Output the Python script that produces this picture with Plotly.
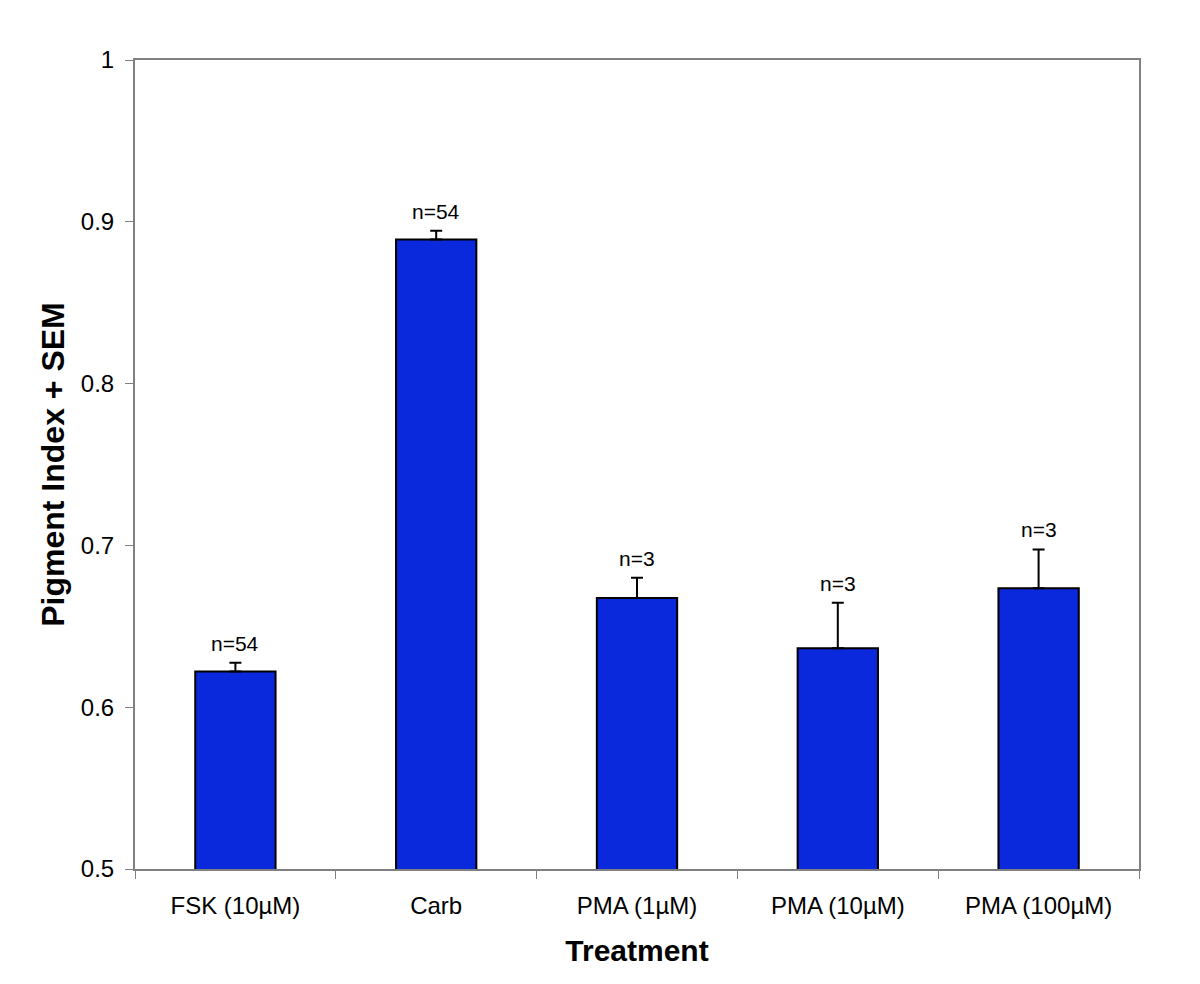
import plotly.graph_objects as go

categories = ["FSK (10µM)", "Carb", "PMA (1µM)", "PMA (10µM)", "PMA (100µM)"]
means = [0.622, 0.889, 0.6675, 0.6365, 0.6735]
sem = [0.0055, 0.0055, 0.0125, 0.028, 0.024]
n_labels = ["n=54", "n=54", "n=3", "n=3", "n=3"]
y_ticks = [0.5, 0.6, 0.7, 0.8, 0.9, 1.0]
y_tick_text = ["0.5", "0.6", "0.7", "0.8", "0.9", "1"]

FONT = "Liberation Sans, Arial, sans-serif"

fig = go.Figure()
fig.add_trace(go.Bar(
    x=categories, y=means, width=0.4,
    marker=dict(color="#0a28dc", line=dict(color="black", width=2)),
    error_y=dict(type="data", array=sem, arrayminus=[0]*len(sem), symmetric=False,
                 color="black", thickness=2, width=6),
))

for c, m, s, t in zip(categories, means, sem, n_labels):
    fig.add_annotation(x=c, y=m + s, text=t, showarrow=False, xref="x", yref="y",
                       yanchor="bottom", yshift=6, font=dict(size=21, color="black", family=FONT))

fig.update_layout(
    width=1200, height=984,
    margin=dict(l=127, r=69, t=52, b=123),
    paper_bgcolor="white", plot_bgcolor="white",
    showlegend=False,
    font=dict(family=FONT, color="black"),
)
fig.update_xaxes(
    type="category", tickson="boundaries", ticks="outside", ticklen=8, tickcolor="#808080",
    showline=True, linecolor="#808080", linewidth=2, mirror=True,
    tickfont=dict(size=24, family=FONT), ticklabelstandoff=14,
    title=dict(text="<b>Treatment</b>", font=dict(size=30, family=FONT), standoff=22),
    showgrid=False,
)
fig.update_yaxes(
    range=[0.5, 1.0], tickvals=y_ticks, ticktext=y_tick_text,
    ticks="outside", ticklen=8, tickcolor="#808080",
    showline=True, linecolor="#808080", linewidth=2, mirror=True,
    tickfont=dict(size=24, family=FONT), ticklabelstandoff=6,
    title=dict(text="<b>Pigment Index + SEM</b>", font=dict(size=32, family=FONT), standoff=7),
    showgrid=False, zeroline=False,
)

fig.write_html("out.html")
